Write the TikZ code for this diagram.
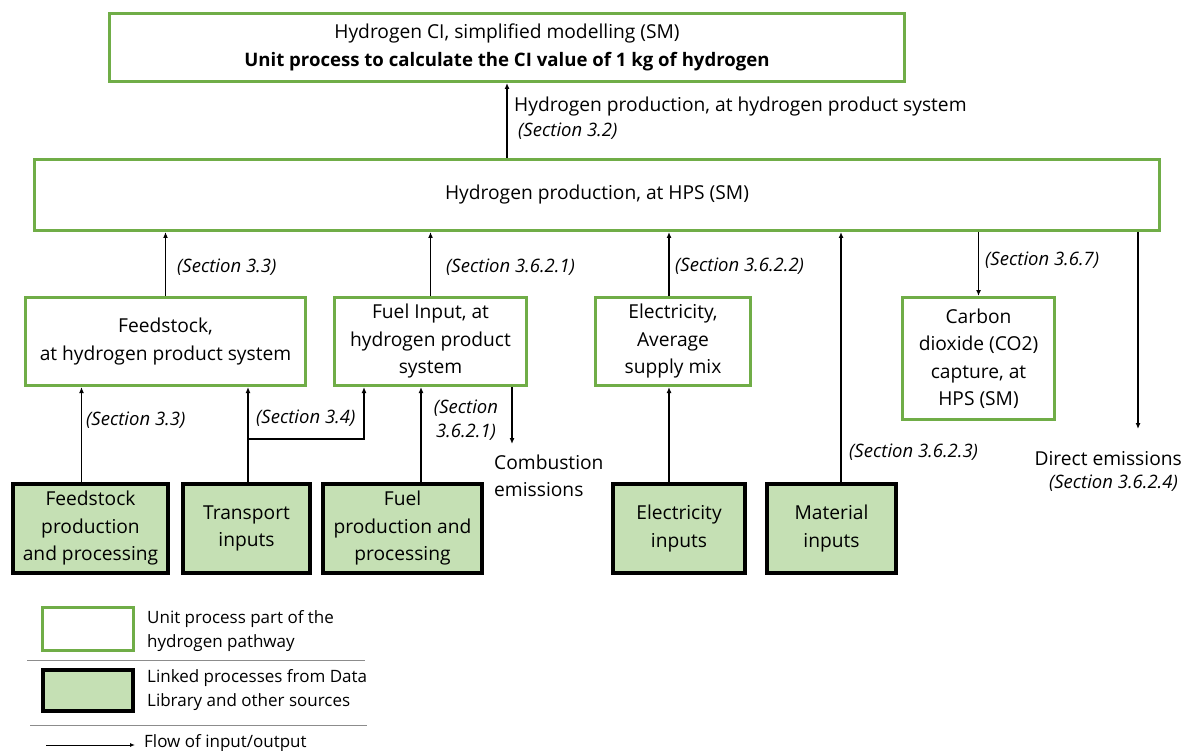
\documentclass[tikz,border=0pt]{standalone}
\usepackage{fontspec}
\setmainfont{Open Sans}
\usetikzlibrary{arrows.meta}
\definecolor{grn}{HTML}{70AD47}
\definecolor{lgrn}{HTML}{C5E0B4}
\definecolor{sep}{HTML}{8C8C8C}
\newcommand\mainfs{\fontsize{19.2}{27.5}\selectfont}
\newcommand\boldfs{\fontsize{18.6}{27.5}\selectfont\bfseries}
\newcommand\secfs{\fontsize{18.5}{24}\selectfont\itshape}
\newcommand\legfs{\fontsize{17}{23.5}\selectfont}
\tikzset{
 unit/.style={draw=grn, line width=3pt, fill=white, align=center, inner sep=0pt, font=\mainfs},
 linked/.style={draw=black, line width=3.5pt, fill=lgrn, align=center, inner sep=0pt, font=\mainfs},
 arr/.style={-{Latex[length=6pt,width=5pt]}, line width=1.2pt},
 lbl/.style={font=\secfs, inner sep=0pt},
 txt/.style={font=\mainfs, inner sep=0pt},
 legtxt/.style={font=\legfs, inner sep=0pt, align=left, anchor=west},
 sepline/.style={draw=sep, line width=1pt},
}
\begin{document}
\begin{tikzpicture}[x=1pt,y=-1pt]
\useasboundingbox (0,0) rectangle (1185,751);
% boxes
\node[unit, minimum width=795pt, minimum height=68pt] (top) at (507,47.5)
 {Hydrogen CI, simplified modelling (SM)\\{\boldfs Unit process to calculate the CI value of 1 kg of hydrogen}};
\node[unit, minimum width=1125pt, minimum height=71pt] (hps) at (597,195) {Hydrogen production, at HPS (SM)};
\node[unit, minimum width=280pt, minimum height=88pt] (feed) at (165.5,341.5) {Feedstock,\\at hydrogen product system};
\node[unit, minimum width=192pt, minimum height=88pt] (fuel) at (430.5,341.5) {Fuel Input, at\\hydrogen product\\system};
\node[unit, minimum width=155pt, minimum height=88pt] (elec) at (673,341.5) {Electricity,\\Average\\supply mix};
\node[unit, minimum width=152pt, minimum height=122pt] (co2) at (978.5,358.5) {Carbon\\dioxide (CO2)\\capture, at\\HPS (SM)};
\node[linked, minimum width=155pt, minimum height=89pt] (fp) at (90.5,528.5) {Feedstock\\production\\and processing};
\node[linked, minimum width=127pt, minimum height=89pt] (tr) at (246.5,528.5) {Transport\\inputs};
\node[linked, minimum width=159pt, minimum height=89pt] (fu) at (402.5,528.5) {Fuel\\production and\\processing};
\node[linked, minimum width=132pt, minimum height=89pt] (ei) at (679,528.5) {Electricity\\inputs};
\node[linked, minimum width=129pt, minimum height=89pt] (mi) at (831.5,528.5) {Material\\inputs};
% helper coordinates
\coordinate (xel) at (669,0);
\coordinate (xmi) at (841,0);
\coordinate (xfp) at (81.5,0);
\coordinate (xfu) at (421,0);
\coordinate (br) at (248,439);
\coordinate (brr) at (364,439);
\coordinate (comb) at (512,444);
\coordinate (dir) at (1138,429);
\coordinate (dirtop) at (1138,0);
% connectors
\draw[arr] (top.south |- hps.north) -- (top.south);
\draw[arr] (feed.north) -- (feed.north |- hps.south);
\draw[arr] (fuel.north) -- (fuel.north |- hps.south);
\draw[arr] (elec.north -| xel) -- (hps.south -| xel);
\draw[arr] (mi.north -| xmi) -- (hps.south -| xmi);
\draw[arr] (hps.south -| co2.north) -- (co2.north);
\draw[arr] (hps.south -| dirtop) -- (dir);
\draw[arr] (fp.north -| xfp) -- (feed.south -| xfp);
\draw[arr] (tr.north -| br) -- (feed.south -| br);
\draw[arr] (br) -- (brr) -- (fuel.south -| brr);
\draw[arr] (fu.north -| xfu) -- (fuel.south -| xfu);
\draw[arr] (ei.north -| xel) -- (elec.south -| xel);
\draw[arr] (fuel.south -| comb) -- (comb);
% labels
\node[txt, anchor=west] (l1) at (514,107) {Hydrogen production, at hydrogen product system};
\node[lbl, anchor=west] (l2) at (518,131) {(Section 3.2)};
\node[lbl, anchor=west] (l3) at (177,267) {(Section 3.3)};
\node[lbl, anchor=west] (l4) at (446,267) {(Section 3.6.2.1)};
\node[lbl, anchor=west] (l5) at (675,266) {(Section 3.6.2.2)};
\node[lbl, anchor=west] (l6) at (985,260) {(Section 3.6.7)};
\node[lbl, anchor=west] (l7) at (86,420) {(Section 3.3)};
\node[lbl, anchor=west] (l8) at (256,418) {(Section 3.4)};
\node[lbl, align=center] (l9) at (466,420) {(Section\\3.6.2.1)};
\node[txt, align=left, anchor=west] (l10) at (494,476) {Combustion\\emissions};
\node[lbl, anchor=west] (l11) at (849,452) {(Section 3.6.2.3)};
\node[txt, anchor=east] (l12) at (1182,459) {Direct emissions};
\node[lbl, anchor=east] (l13) at (1178,483) {(Section 3.6.2.4)};
% legend
\node[unit, minimum width=91pt, minimum height=43pt] (lg1) at (88,629) {};
\node[linked, minimum width=90pt, minimum height=41pt] (lg2) at (88,690.5) {};
\node[legtxt] (lt1) at (147,631) {Unit process part of the\\hydrogen pathway};
\node[legtxt] (lt2) at (147,690) {Linked processes from Data\\Library and other sources};
\coordinate (s1a) at (27,660); \coordinate (s1b) at (365,660);
\coordinate (s2a) at (30,725); \coordinate (s2b) at (367,725);
\draw[sepline] (s1a) -- (s1b);
\draw[sepline] (s2a) -- (s2b);
\coordinate (la) at (46,745); \coordinate (lb) at (135,745);
\draw[-{Latex[length=5pt,width=4pt]}, line width=1pt] (la) -- (lb);
\node[legtxt] (lt3) at (144,743) {Flow of input/output};
\end{tikzpicture}
\end{document}
